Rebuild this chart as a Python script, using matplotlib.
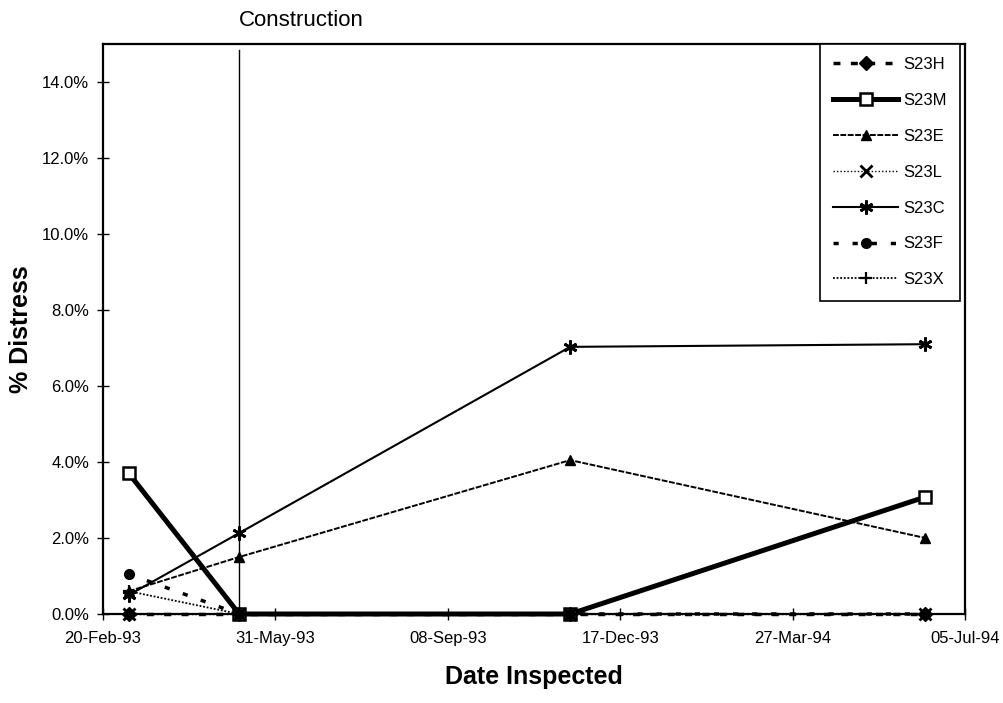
import datetime as dt
import matplotlib
matplotlib.use("Agg")
import matplotlib.pyplot as plt
import matplotlib.dates as mdates
from matplotlib.ticker import PercentFormatter, MultipleLocator

plt.rcParams['font.family'] = ['Liberation Sans', 'DejaVu Sans']

# datas de inspecao e % de degradacao por seccao
datas = [dt.date(1993, 3, 7), dt.date(1993, 5, 10), dt.date(1993, 11, 18), dt.date(1994, 6, 12)]
seccoes = ['S23H', 'S23M', 'S23E', 'S23L', 'S23C', 'S23F', 'S23X']
s23h = [0.0, 0.0, 0.0, 0.0]
s23m = [3.7, 0.0, 0.0, 3.08]
s23e = [0.6, 1.5, 4.05, 2.0]
s23l = [0.0, 0.0, 0.0, 0.0]
s23c = [0.5, 2.13, 7.03, 7.1]
s23f = [1.05, 0.0, 0.0, 0.0]
s23x = [0.6, 0.0, 0.0, 0.0]
construcao = dt.date(1993, 5, 10)
inicio = dt.date(1993, 2, 20)
fim = dt.date(1994, 7, 5)

fig = plt.figure(figsize=(10.04, 7.03), dpi=100)
ax = fig.add_axes([103/1004, 1-614/703, (965-103)/1004, (614-44)/703])

estilos = [
    dict(ls=(0, (2, 3)), lw=2.5, marker='D', ms=7, mfc='black'),
    dict(ls='-', lw=3.6, marker='s', ms=8, mfc='white', mew=1.8),
    dict(ls=(0, (3, 0.8)), lw=1.4, marker='^', ms=7, mfc='black'),
    dict(ls=(0, (1, 1.5)), lw=1.0, marker='x', ms=8, mew=2),
    dict(ls='-', lw=1.5, marker=(6, 2, 0), ms=10, mew=2),
    dict(ls=(0, (1.5, 4)), lw=2.5, marker='o', ms=7, mfc='black'),
    dict(ls=(0, (1, 1)), lw=1.3, marker='+', ms=9, mew=1.6),
]
series = [s23h, s23m, s23e, s23l, s23c, s23f, s23x]
for nome, vals, est in zip(seccoes, series, estilos):
    ax.plot(datas, vals, color='black', mec='black', label=nome, clip_on=False, **est)

ax.axvline(construcao, ymin=0, ymax=0.99, color='black', lw=1)
ax.text(construcao, 15.35, 'Construction', fontsize=16, ha='left', va='bottom')

ax.set_xlim(inicio, fim)
ax.set_ylim(0, 15)
ax.set_xticks([inicio + dt.timedelta(days=100 * i) for i in range(6)])
ax.xaxis.set_major_formatter(mdates.DateFormatter('%d-%b-%y'))
ax.yaxis.set_major_locator(MultipleLocator(2))
ax.yaxis.set_major_formatter(PercentFormatter(xmax=100, decimals=1))
ax.tick_params(direction='inout', length=8, width=1, labelsize=12, color='black')
ax.tick_params(axis='x', pad=8)
ax.tick_params(axis='y', pad=6)
for s in ax.spines.values():
    s.set_linewidth(1.6)
    s.set_color('black')

ax.set_xlabel('Date Inspected', fontsize=18, fontweight='bold', labelpad=14)
ax.set_ylabel('% Distress', fontsize=18, fontweight='bold')
ax.yaxis.set_label_coords(-0.081, 0.5)

leg = ax.legend(loc='upper right', bbox_to_anchor=(960/1004, 1-44/703),
                bbox_transform=fig.transFigure, borderaxespad=0, fontsize=12,
                frameon=True, fancybox=False, edgecolor='black', framealpha=1,
                labelspacing=1.25, handlelength=3.9, handletextpad=0.3,
                borderpad=0.8)
leg.get_frame().set_linewidth(1.2)

fig.savefig('out.png', dpi=100)
